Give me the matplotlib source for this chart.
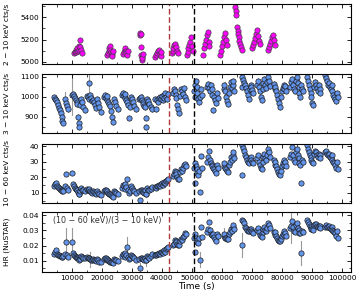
import numpy as np
import matplotlib
matplotlib.use("Agg")
import matplotlib.pyplot as plt
from matplotlib.ticker import AutoMinorLocator, MultipleLocator

# ---- 2-10 keV light curve (ks, cts/s)
soft_t = [10.8, 11.0, 11.2, 11.4, 11.6, 11.8, 12.0, 12.2, 12.4, 12.6, 12.8, 13.0, 13.2,
          21.8, 22.0, 22.2, 22.4, 22.6, 22.8, 23.0, 23.2, 23.4, 23.6,
          27.1, 27.3, 27.5, 27.7, 27.9, 28.1, 28.3, 28.5,
          32.6, 32.8, 32.9, 33.0, 33.1, 33.2, 33.3, 33.4, 33.6,
          37.8, 38.0, 38.3, 38.6, 38.9, 39.2, 39.5, 39.8,
          43.4, 43.6, 43.8, 44.0, 44.3, 44.6, 44.9, 45.2,
          48.4, 48.6, 48.8, 49.0, 49.3, 49.6, 49.9, 50.2,
          53.8, 54.0, 54.3, 54.6, 54.9, 55.2, 55.5, 55.8,
          59.4, 59.7, 60.0, 60.3, 60.6, 60.9, 61.2, 61.5,
          64.4, 64.6, 64.8, 65.0, 65.2, 65.4, 65.6, 65.8, 66.0, 66.3, 66.6,
          70.1, 70.4, 70.7, 71.0, 71.3, 71.6, 71.9, 72.2, 72.5,
          75.4, 75.7, 76.0, 76.3, 76.6, 76.9, 77.2, 77.5]
soft_rate = [5075, 5090, 5110, 5085, 5100, 5125, 5095, 5140, 5110, 5130, 5195, 5105, 5080,
             5060, 5080, 5100, 5125, 5145, 5110, 5090, 5070, 5050, 5100,
             5070, 5090, 5110, 5120, 5100, 5080, 5065, 5095,
             5245, 5260, 5130, 5250, 5060, 5040, 5020, 5030, 5070,
             5040, 5060, 5080, 5100, 5110, 5070, 5050, 5090,
             5080, 5100, 5120, 5150, 5160, 5130, 5100, 5075,
             5060, 5090, 5120, 5150, 5180, 5225, 5140, 5100,
             5065, 5120, 5160, 5200, 5240, 5270, 5180, 5140,
             5060, 5100, 5140, 5180, 5220, 5255, 5200, 5150,
             5490, 5460, 5420, 5310, 5280, 5250, 5220, 5190, 5160, 5130, 5110,
             5120, 5150, 5180, 5210, 5250, 5285, 5230, 5190, 5160,
             5105, 5130, 5160, 5190, 5220, 5240, 5200, 5150]

# ---- NuSTAR light curves (ks, cts/s)
nu_t = [4.0, 4.3, 4.6, 5.0, 5.3, 5.6, 5.9, 6.2, 6.5, 6.8, 7.0, 7.7, 7.9, 8.3, 8.6,
        10.1, 10.3, 10.6, 10.9, 11.2, 11.5, 11.8, 12.0, 12.2, 12.4, 12.7, 13.0, 13.4, 13.8, 14.2,
        15.0, 15.3, 15.6, 15.8, 16.1, 16.4, 16.7, 17.0, 17.3, 17.6, 17.9, 18.3, 18.7, 19.1, 19.5,
        20.6, 20.9, 21.2, 21.5, 21.8, 22.1, 22.4, 22.7, 23.0, 23.3, 23.6, 24.0, 24.4, 24.8, 25.2,
        26.6, 26.9, 27.2, 27.5, 27.8, 28.1, 28.4, 28.7, 28.9, 29.2, 29.6, 30.0, 30.4, 30.8, 31.2,
        32.3, 32.6, 32.9, 33.2, 33.5, 33.8, 34.1, 34.4, 34.6, 34.8, 35.1, 35.4, 35.8, 36.2, 36.5,
        37.8, 38.1, 38.4, 38.7, 39.0, 39.3, 39.6, 39.9, 40.2, 40.5, 40.8, 41.1, 41.4, 41.7, 42.0,
        43.6, 43.9, 44.2, 44.5, 44.8, 45.1, 45.4, 45.7, 46.0, 46.3, 46.6, 46.9, 47.2, 47.5, 47.9,
        50.6, 50.9, 51.0, 51.2, 51.5, 51.8, 52.1, 52.4, 52.7, 53.0, 53.2,
        55.0, 55.3, 55.6, 55.9, 56.2, 56.5, 56.8, 57.1, 57.4, 57.7, 58.0, 58.3, 58.6,
        60.5, 60.8, 61.1, 61.4, 61.7, 62.0, 62.3, 62.6, 62.9, 63.2, 63.5, 63.8, 64.1,
        66.5, 66.8, 67.1, 67.4, 67.7, 68.0, 68.3, 68.6, 68.9, 69.2, 69.5, 69.8, 70.1, 70.4,
        71.7, 72.0, 72.3, 72.6, 72.9, 73.2, 73.5, 73.8, 74.1, 74.4, 74.7, 75.0, 75.3, 75.6, 75.9,
        77.2, 77.5, 77.8, 78.1, 78.4, 78.7, 79.0, 79.3, 79.6, 79.9, 80.2, 80.5, 80.8, 81.1, 81.4,
        82.8, 83.1, 83.4, 83.7, 84.0, 84.3, 84.6, 84.9, 85.2, 85.5, 85.8, 86.1, 86.3, 86.6, 86.9,
        88.3, 88.6, 88.9, 89.2, 89.5, 89.8, 90.1, 90.4, 90.7, 91.0, 91.3, 91.6, 91.9, 92.2, 92.5, 92.8,
        94.4, 94.7, 95.0, 95.3, 95.6, 95.9, 96.2, 96.5, 96.8, 97.1, 97.4, 97.7, 98.0, 98.3, 98.6]
rate_3_10 = [998, 992, 985, 975, 960, 945, 935, 920, 900, 880, 872, 990, 970, 955, 940,
             1010, 1015, 1005, 995, 985, 975, 965, 900, 870, 852, 960, 990, 975, 950, 935,
             1005, 1000, 990, 1068, 1010, 995, 980, 985, 975, 960, 945, 990, 970, 950, 925,
             1000, 1010, 995, 985, 1005, 975, 965, 955, 930, 900, 875, 990, 975, 955, 940,
             1010, 1020, 1005, 995, 1015, 985, 975, 960, 897, 950, 1000, 990, 975, 955, 940,
             990, 995, 1000, 985, 975, 965, 955, 950, 850, 897, 990, 980, 965, 950, 940,
             990, 940, 985, 975, 995, 1000, 990, 1005, 985, 1010, 995, 1020, 1000, 990, 1015,
             1020, 1040, 1030, 1010, 995, 960, 940, 920, 1005, 1040, 1030, 1015, 1045, 1000, 985,
             1030, 1060, 1000, 1080, 1050, 1020, 990, 975, 1000, 1040, 1010,
             1050, 1065, 1045, 1030, 1060, 1040, 1010, 933, 1000, 985, 970, 1020, 995,
             1040, 1060, 1030, 1000, 980, 965, 1020, 1050, 1075, 1045, 1060, 1080, 1030,
             1050, 1100, 1085, 1070, 1060, 1045, 1030, 1010, 990, 1040, 1060, 1050, 1035, 1020,
             1060, 1080, 1050, 1030, 1000, 985, 1040, 1070, 1090, 1060, 1045, 1075, 1100, 1080, 1055,
             1065, 1040, 1050, 1030, 1010, 990, 970, 950, 1000, 1030, 1045, 1060, 1040, 1055, 1030,
             1050, 1075, 1090, 1060, 1040, 1030, 1080, 1100, 1070, 1050, 1020, 1000, 1060, 1040, 1030,
             1100, 1080, 1060, 1040, 1020, 1000, 970, 960, 1050, 1075, 1060, 1045, 1030, 1060, 1040, 1020,
             1110, 1095, 1080, 1060, 1070, 1050, 1040, 1060, 1030, 1010, 1000, 990, 980, 1020, 1000]
rate_10_60 = [14.5, 15.5, 16.5, 14, 13.5, 13, 12.5, 12, 11.5, 11, 11.2, 14.5, 21.8, 13, 12,
              22.4, 15.5, 14, 13, 12.5, 12, 11.5, 10.5, 9.5, 9, 11, 13, 12, 11.5, 11,
              12.5, 12, 11.5, 12.5, 11, 10.5, 10, 11, 10.5, 10, 9.5, 11, 10, 9, 8.5,
              11, 12, 11.5, 10.5, 11, 10, 9.5, 9, 8.5, 8, 7.5, 11, 10.5, 10, 9,
              13, 15, 14, 12.5, 15.5, 13.5, 18.8, 12, 10, 11, 14, 13, 12, 11, 10,
              11, 5.3, 12, 11.5, 11, 10.5, 10, 11.5, 9, 9.5, 13, 12, 11.5, 12.5, 13.5,
              13.5, 13, 14.5, 14, 15, 14.5, 15.5, 16, 15, 16.5, 17, 16, 17.5, 18, 19,
              21, 22, 24, 23, 22, 20, 19, 18.5, 23, 25, 24, 26, 27.5, 28.5, 27,
              26, 29, 16, 27, 25, 22.5, 21.5, 24, 10.6, 33.5, 26,
              30, 33, 37, 31, 29, 28, 27, 26, 25.5, 24, 22.5, 28, 26,
              27, 29, 26, 25, 24, 23.5, 28, 30, 33, 31, 34, 36, 32,
              21.3, 40.5, 39, 37, 34, 33, 31, 30, 29, 32, 33, 31, 30, 29,
              32, 34, 30, 28, 26, 25.5, 30, 33, 35, 32, 31, 34, 38, 36, 33,
              31, 28, 30, 27, 25, 23.5, 22, 21.5, 24, 27, 29, 31, 28, 30, 27,
              33, 35, 39.5, 34, 31, 30, 36, 38, 34, 32, 29, 28, 16, 31, 30,
              40.5, 38, 36, 34, 33, 31, 30, 29, 35, 37, 36, 34, 33, 35, 34, 32,
              36, 37, 35, 34, 35, 33, 32, 34, 31, 30, 29, 28, 26, 30, 25]

# points with large error bars (ks, error)
big_err_3_10_t = [7.7, 10.1, 15.8, 33.2, 61.1, 68.3, 85.5]
big_err_3_10 = [35, 100, 45, 30, 45, 25, 40]
big_err_hr_t = [7.9, 10.1, 16.1, 28.4, 32.6, 34.8, 52.7, 66.5, 83.1, 86.3, 60.8]
big_err_hr = [0.009, 0.009, 0.005, 0.006, 0.003, 0.004, 0.005, 0.008, 0.011, 0.008, 0.004]

line_red = 42.4
line_black = 50.5

blue = '#6495ED'
fig = plt.figure(figsize=(3.57, 2.94), dpi=100)
H = 294.0
boxes = [(4, 64), (74, 133), (144, 203), (212, 272)]
axs = [fig.add_axes([42 / 357, (H - b) / H, 309 / 357, (b - t) / H]) for t, b in boxes]

t_nu = np.array(nu_t) * 1000
r2 = np.array(rate_3_10, float)
r3 = np.array(rate_10_60, float)
hr = r3 / r2


def extra_errs(ax, t, y, te, ee):
    for tt, e in zip(te, ee):
        i = np.argmin(np.abs(np.array(nu_t) - tt))
        ax.plot([t[i], t[i]], [y[i] - e, y[i] + e], color='0.6', lw=0.8, zorder=1)


ax = axs[0]
ax.plot(np.array(soft_t) * 1000, soft_rate, 'o', ms=3.8, mfc='#ff00ff', mec='0.25', mew=0.5)
ax.set_ylim(4980, 5520)
ax.yaxis.set_major_locator(MultipleLocator(200))
ax.set_ylabel('2 − 10 keV cts/s')

ax = axs[1]
ax.errorbar(t_nu, r2, yerr=14, fmt='none', ecolor='0.6', elinewidth=0.8, zorder=1)
extra_errs(ax, t_nu, r2, big_err_3_10_t, big_err_3_10)
ax.plot(t_nu, r2, 'o', ms=3.8, mfc=blue, mec='0.1', mew=0.5, zorder=2)
ax.set_ylim(820, 1115)
ax.yaxis.set_major_locator(MultipleLocator(100))
ax.set_ylabel('3 − 10 keV cts/s')

ax = axs[2]
ax.errorbar(t_nu, r3, yerr=1.3, fmt='none', ecolor='0.6', elinewidth=0.8, zorder=1)
ax.plot(t_nu, r3, 'o', ms=3.8, mfc=blue, mec='0.1', mew=0.5, zorder=2)
ax.set_ylim(3.4, 41.3)
ax.yaxis.set_major_locator(MultipleLocator(10))
ax.set_ylabel('10 − 60 keV cts/s')

ax = axs[3]
ax.errorbar(t_nu, hr, yerr=0.0013, fmt='none', ecolor='0.6', elinewidth=0.8, zorder=1)
extra_errs(ax, t_nu, hr, big_err_hr_t, big_err_hr)
ax.plot(t_nu, hr, 'o', ms=3.8, mfc=blue, mec='0.1', mew=0.5, zorder=2)
ax.set_ylim(0.0026, 0.042)
ax.yaxis.set_major_locator(MultipleLocator(0.01))
ax.set_ylabel('HR (NuSTAR)')
ax.text(0.035, 0.85, '(10 − 60 keV)/(3 − 10 keV)', transform=ax.transAxes,
        fontsize=5.8, va='center', ha='left', color='0.2')
ax.set_xlabel('Time (s)', fontsize=6.5, labelpad=1)

for i, ax in enumerate(axs):
    ax.set_xlim(0, 103000)
    ax.xaxis.set_major_locator(MultipleLocator(10000))
    ax.xaxis.set_minor_locator(AutoMinorLocator(2))
    ax.yaxis.set_minor_locator(AutoMinorLocator(2))
    ax.tick_params(which='both', direction='in', top=True, right=True, labelsize=5.3, pad=2)
    ax.tick_params(which='major', length=3, width=0.6)
    ax.tick_params(which='minor', length=1.8, width=0.5)
    ax.axvline(line_red * 1000, color='#b03a3a', ls='--', lw=1, dashes=(4, 2))
    ax.axvline(line_black * 1000, color='k', ls='--', lw=1, dashes=(4, 2))
    ax.yaxis.label.set_size(5.4)
    ax.yaxis.set_label_coords(-0.105, 0.5)
    if i < 3:
        ax.tick_params(labelbottom=False)
    for s in ax.spines.values():
        s.set_linewidth(0.8)

axs[3].set_xticks(np.arange(10000, 100001, 10000))
fig.savefig('out.png', dpi=100)
